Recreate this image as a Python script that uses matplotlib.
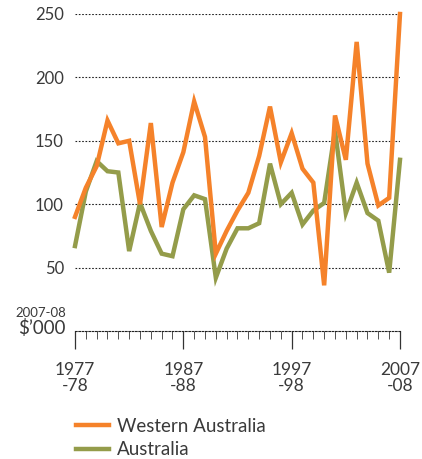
import numpy as np
import matplotlib.pyplot as plt
from matplotlib.lines import Line2D

plt.rcParams['font.family'] = ['Lato', 'DejaVu Sans']

# financial years 1977-78 .. 2007-08, labelled by first year
years = list(range(1977, 2008))

wa = [90, 113, 130, 166, 148, 150, 100, 164, 82, 117,
      141, 181, 153, 61, 79, 95, 109, 138, 177, 133,
      156, 128, 117, 36, 170, 135, 228, 132, 99, 105, 250]

aus = [67, 110, 134, 126, 125, 63, 101, 79, 61, 59,
       96, 107, 104, 42, 65, 81, 81, 85, 132, 100,
       109, 84, 95, 101, 158, 93, 117, 93, 87, 46, 135]

ytick_vals = [50, 100, 150, 200, 250]
xtick_vals = [1977, 1987, 1997, 2007]
xtick_labels = ['1977\n-78', '1987\n-88', '1997\n-98', '2007\n-08']

orange = '#F5822A'
green = '#949C4A'
txt = '#3a3a3a'

W, H = 422, 459
fig = plt.figure(figsize=(W / 100, H / 100), dpi=100)
ax = fig.add_axes([75 / W, (H - 331) / H, 325 / W, 317 / H])

ax.plot(years, aus, color=green, lw=3.2, clip_on=False, zorder=3,
        solid_joinstyle='miter')
ax.plot(years, wa, color=orange, lw=3.2, clip_on=False, zorder=4,
        solid_joinstyle='miter')

ax.set_xlim(1977, 2007)
ax.set_ylim(0, 250)

for v in ytick_vals:
    ax.axhline(v, color='#222222', lw=0.8, ls=(0, (1.5, 1.5)), zorder=1)

for s in ['top', 'right', 'left']:
    ax.spines[s].set_visible(False)
ax.spines['bottom'].set_linestyle((0, (1.5, 1.5)))
ax.spines['bottom'].set_color('#222222')
ax.spines['bottom'].set_linewidth(0.8)

ax.set_yticks(ytick_vals)
ax.set_yticklabels([str(v) for v in ytick_vals])
ax.tick_params(axis='y', length=0, pad=8, labelsize=12, labelcolor=txt)

ax.set_xticks(xtick_vals)
ax.set_xticklabels(xtick_labels, linespacing=1.0)
ax.set_xticks(years, minor=True)
ax.tick_params(axis='x', which='major', length=13, width=0.9, color='#333333',
               pad=9, labelsize=12.5, labelcolor=txt)
ax.tick_params(axis='x', which='minor', length=6, width=0.6, color='#333333')

fig.text(66 / W, (H - 313) / H, '2007-08', ha='right', va='center',
         fontsize=9.5, color=txt)
fig.text(66 / W, (H - 328) / H, "$’000", ha='right', va='center',
         fontsize=13.5, color=txt)

handles = [Line2D([], [], color=orange, lw=3.2),
           Line2D([], [], color=green, lw=3.2)]
fig.legend(handles, ['Western Australia', 'Australia'], loc='upper left',
           bbox_to_anchor=(68 / W, (H - 410) / H), frameon=False,
           fontsize=13.5, handlelength=1.8, handletextpad=0.4,
           labelspacing=0.35, labelcolor=txt, borderaxespad=0)

fig.savefig('out.png', dpi=100)
